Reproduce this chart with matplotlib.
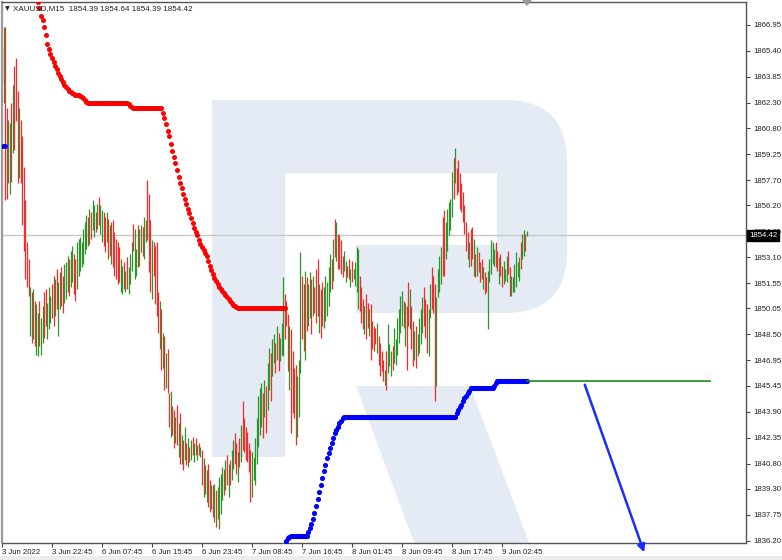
import matplotlib
matplotlib.use('Agg')
import matplotlib.pyplot as plt
import numpy as np
from matplotlib.patches import Rectangle, FancyBboxPatch, Polygon
from matplotlib.transforms import Affine2D

# XAUUSD M15 bars (high / low / direction), one entry per bar
highs = [
    1865.6, 1866.8, 1866.8, 1862.0, 1861.3, 1861.1, 1862.3, 1863.4, 1864.5, 1865.0,
    1863.0, 1862.0, 1861.3, 1860.3, 1858.5, 1856.5, 1854.0, 1853.0, 1851.3, 1851.0,
    1851.2, 1850.5, 1850.3, 1849.8, 1850.5, 1849.5, 1850.2, 1851.0, 1851.2, 1850.4,
    1851.3, 1850.8, 1851.5, 1852.0, 1851.8, 1852.4, 1851.6, 1852.2, 1852.5, 1852.0,
    1852.7, 1852.8, 1853.2, 1853.0, 1853.5, 1853.8, 1853.3, 1853.0, 1854.0, 1854.2,
    1854.3, 1854.0, 1854.8, 1855.2, 1855.6, 1855.5, 1856.0, 1855.8, 1856.5, 1856.2,
    1855.8, 1856.3, 1856.7, 1856.2, 1855.9, 1855.8, 1855.5, 1855.8, 1855.4, 1855.0,
    1855.2, 1855.3, 1854.6, 1854.2, 1854.0, 1853.7, 1853.0, 1852.6, 1852.8, 1852.3,
    1853.1, 1852.5, 1853.3, 1854.0, 1855.1, 1854.8, 1853.6, 1855.0, 1854.8, 1855.0,
    1854.9, 1855.5, 1855.3, 1857.7, 1856.9, 1855.3, 1854.1, 1854.0, 1853.8, 1854.0,
    1851.0, 1850.5, 1850.0, 1848.6, 1848.4, 1847.4, 1847.6, 1845.0, 1845.1, 1844.2,
    1844.0, 1843.6, 1844.3, 1843.2, 1843.8, 1842.5, 1842.2, 1843.0, 1842.0, 1842.3,
    1841.8, 1842.2, 1842.4, 1842.0, 1842.3, 1841.9, 1842.0, 1841.8, 1841.6, 1841.1,
    1840.7, 1840.4, 1840.8, 1839.8, 1839.5, 1839.5, 1839.6, 1839.2, 1839.4, 1840.0,
    1840.2, 1840.6, 1840.5, 1841.0, 1841.3, 1840.8, 1841.0, 1841.6, 1842.2, 1842.6,
    1842.0, 1841.5, 1842.3, 1843.1, 1844.5, 1843.5, 1843.0, 1842.7, 1842.0, 1841.6,
    1841.5, 1841.2, 1842.3, 1843.5, 1844.8, 1845.3, 1845.6, 1845.0, 1845.8, 1845.4,
    1846.8, 1847.7, 1847.4, 1848.2, 1848.5, 1848.0, 1849.0, 1848.6, 1848.3, 1849.2,
    1851.9, 1850.9, 1850.5, 1849.7, 1849.0, 1848.8, 1847.5, 1846.5, 1846.7, 1846.0,
    1847.0, 1853.4, 1852.0, 1851.5, 1852.3, 1851.9, 1851.5, 1852.2, 1851.8, 1852.0,
    1851.3, 1852.4, 1853.0, 1851.5, 1851.2, 1851.6, 1851.3, 1852.0, 1851.6, 1852.5,
    1853.3, 1853.0, 1854.2, 1855.4, 1855.2, 1854.5, 1854.4, 1854.1, 1853.2, 1853.5,
    1852.9, 1852.6, 1853.0, 1852.4, 1852.9, 1852.4, 1852.8, 1853.7, 1853.6, 1852.0,
    1851.3, 1850.6, 1850.2, 1850.9, 1850.4, 1850.0, 1850.3, 1849.3, 1849.0, 1848.9,
    1849.2, 1848.4, 1848.0, 1847.5, 1847.0, 1846.4, 1847.5, 1849.1, 1847.9, 1847.5,
    1847.8, 1848.9, 1848.2, 1849.5, 1850.0, 1850.8, 1851.1, 1850.5, 1850.4, 1850.2,
    1851.6, 1851.2, 1850.2, 1849.3, 1848.7, 1849.0, 1848.5, 1849.5, 1850.0, 1850.7,
    1851.3, 1850.6, 1850.3, 1850.0, 1851.5, 1852.5, 1852.0, 1851.5, 1850.7, 1852.4,
    1853.2, 1853.7, 1855.5, 1855.9, 1855.2, 1856.0, 1856.4, 1856.6, 1858.2, 1859.0,
    1859.6, 1858.4, 1858.9, 1858.1, 1857.5, 1857.0, 1856.2, 1855.2, 1854.6, 1854.0,
    1854.8, 1854.9, 1854.2, 1853.3, 1853.7, 1853.4, 1852.8, 1853.0, 1852.5, 1852.2,
    1851.9, 1852.3, 1853.0, 1854.1, 1854.0, 1853.6, 1854.0, 1853.5, 1853.1, 1853.3,
    1852.6, 1852.9, 1852.4, 1853.2, 1853.5, 1852.5, 1852.0, 1851.9, 1852.7, 1853.4,
    1852.8, 1853.1, 1854.0, 1854.5, 1854.7, 1854.5, 1854.64,
]
lows = [
    1863.5, 1862.3, 1856.5, 1856.6, 1857.5, 1856.9, 1857.6, 1859.3, 1859.5, 1861.2,
    1857.5, 1857.8, 1857.5, 1855.0, 1853.5, 1851.8, 1851.3, 1850.8, 1848.4, 1848.0,
    1848.2, 1847.8, 1847.3, 1847.2, 1847.8, 1847.3, 1848.0, 1848.3, 1849.0, 1848.2,
    1848.8, 1849.2, 1849.5, 1849.0, 1849.6, 1850.0, 1848.4, 1850.0, 1850.2, 1849.8,
    1850.4, 1850.6, 1851.0, 1850.8, 1851.3, 1851.6, 1850.9, 1850.5, 1851.2, 1852.0,
    1852.3, 1852.5, 1852.7, 1853.3, 1853.6, 1853.8, 1853.9, 1854.2, 1854.7, 1854.3,
    1854.6, 1854.8, 1855.0, 1854.5, 1854.0, 1853.8, 1853.4, 1854.0, 1853.0, 1853.2,
    1852.7, 1852.5, 1852.0, 1851.8, 1851.5, 1851.6, 1851.0, 1850.9, 1851.2, 1851.0,
    1851.2, 1850.9, 1851.5, 1852.3, 1853.5, 1851.8, 1852.0, 1852.5, 1852.6, 1853.4,
    1853.2, 1853.0, 1854.0, 1854.1, 1852.2, 1851.0, 1850.6, 1852.0, 1850.3, 1849.6,
    1848.6, 1847.6, 1846.4, 1846.5, 1845.2, 1845.3, 1845.0, 1843.0, 1842.4, 1842.5,
    1841.7, 1842.0, 1841.9, 1841.2, 1840.8, 1840.8, 1840.4, 1841.0, 1840.7, 1840.6,
    1840.9, 1841.0, 1841.3, 1840.9, 1841.3, 1841.0, 1841.3, 1841.2, 1839.5, 1838.8,
    1839.0, 1838.5, 1838.2, 1837.9, 1838.1, 1837.6, 1837.3, 1837.0, 1837.5, 1836.9,
    1837.8, 1838.6, 1838.9, 1839.2, 1839.5, 1838.8, 1839.5, 1839.8, 1840.5, 1840.8,
    1840.2, 1839.7, 1840.6, 1840.9, 1841.6, 1841.5, 1841.0, 1840.9, 1840.3, 1838.5,
    1838.8, 1839.8, 1839.5, 1840.8, 1841.8, 1842.5, 1843.0, 1842.3, 1843.6, 1842.6,
    1844.0, 1845.2, 1844.5, 1846.0, 1846.8, 1846.2, 1847.0, 1846.3, 1846.9, 1847.3,
    1847.2, 1848.2, 1849.0, 1846.3, 1845.2, 1842.6, 1843.8, 1843.5, 1841.9, 1842.4,
    1843.6, 1846.2, 1848.2, 1847.5, 1847.0, 1848.7, 1849.0, 1849.5, 1848.5, 1849.6,
    1849.8, 1849.2, 1849.6, 1848.6, 1848.3, 1849.0, 1848.9, 1849.3, 1849.6, 1850.2,
    1851.0, 1851.2, 1851.7, 1853.1, 1852.9, 1852.4, 1852.4, 1852.1, 1851.9, 1852.3,
    1851.6, 1851.9, 1851.8, 1851.3, 1851.6, 1851.8, 1851.4, 1851.0, 1850.0, 1849.9,
    1849.2, 1848.8, 1848.5, 1848.2, 1848.9, 1848.4, 1847.0, 1847.6, 1847.5, 1847.9,
    1847.4, 1846.7, 1846.0, 1846.3, 1845.7, 1845.5, 1845.2, 1846.2, 1846.6, 1846.0,
    1846.4, 1846.8, 1846.7, 1847.3, 1848.0, 1848.6, 1849.0, 1848.9, 1847.8, 1846.4,
    1849.0, 1848.8, 1847.6, 1846.6, 1847.0, 1846.5, 1847.2, 1847.4, 1847.9, 1848.6,
    1849.0, 1848.3, 1847.4, 1847.2, 1849.5, 1850.0, 1849.8, 1844.5, 1845.4, 1850.7,
    1851.0, 1851.5, 1852.0, 1852.0, 1853.0, 1853.5, 1854.4, 1854.7, 1855.5, 1856.6,
    1857.5, 1856.8, 1857.0, 1856.0, 1855.8, 1855.2, 1854.5, 1853.5, 1853.0, 1852.5,
    1852.6, 1853.0, 1852.0, 1851.9, 1852.0, 1852.2, 1851.6, 1851.8, 1851.2, 1850.9,
    1851.0, 1848.8, 1851.6, 1852.1, 1852.7, 1852.6, 1852.5, 1852.3, 1851.5, 1852.0,
    1851.3, 1851.5, 1851.7, 1851.6, 1852.1, 1850.8, 1850.8, 1851.0, 1851.0, 1851.3,
    1851.9, 1851.7, 1852.4, 1853.0, 1853.2, 1853.5, 1854.39,
]
direction = (
    "rgrrggrgrr" "rgrrrrrrgr" "grggrggrrg" "ggrrgrggrr" "gggrggrrgg"
    "gggggrgrgg" "rgrggrrgrr" "grrrrrggrg" "rgggrggrgg" "rggrrrgrrr"
    "rgrgrgrrgr" "rgrgrgrgrg" "rgrgrgrgrg" "rgrrgrgrgg" "ggrgrgrggr"
    "rgrgrrrrrr" "gggggggrgr" "ggrggrgrgg" "grrrgrrrrg" "ggrrgrggrg"
    "rrrgrrgggg" "grgrgrrrrg" "grrgrggggr" "rrgrrgrrrr" "grrrrgrggg"
    "rggggggrgr" "rgrrgrgggg" "rrrggrrrgg" "ggrrggggg" "rgrrrrrrrr"
    "grrgrgrrrg" "rrgggggrrg" "rrgggrrggg" "gggrgg"
)

# upper trailing stop (red dots), starting at bar 23
stop_up_first = 23
stop_up = [
    1868.3, 1867.96, 1867.5, 1867.25, 1866.8, 1866.35, 1865.8, 1865.5, 1865.2, 1865.0,
    1864.75, 1864.5, 1864.3, 1864.1, 1863.9, 1863.7, 1863.55, 1863.4, 1863.25, 1863.15,
    1863.0, 1862.95, 1862.9, 1862.85, 1862.8, 1862.8, 1862.8, 1862.7, 1862.65, 1862.6,
    1862.5, 1862.35,
    1862.3, 1862.3, 1862.3, 1862.3, 1862.3, 1862.3, 1862.3, 1862.3, 1862.3, 1862.3,
    1862.3, 1862.3, 1862.3, 1862.3, 1862.3, 1862.3, 1862.3, 1862.3, 1862.3, 1862.3,
    1862.3, 1862.3, 1862.3, 1862.3, 1862.3, 1862.3,
    1862.25, 1862.12, 1862.05,
    1862.0, 1862.0, 1862.0, 1862.0, 1862.0, 1862.0, 1862.0, 1862.0, 1862.0, 1862.0,
    1862.0, 1862.0, 1862.0, 1862.0, 1862.0, 1862.0, 1862.0, 1862.0,
    1862.0, 1861.7, 1861.4, 1861.05, 1860.6, 1860.3, 1859.85, 1859.45, 1859.1, 1858.7,
    1858.3, 1857.9, 1857.5, 1857.2, 1856.9, 1856.6, 1856.3, 1856.0, 1855.75, 1855.45,
    1855.15, 1854.85, 1854.6, 1854.4, 1854.15, 1853.9, 1853.7, 1853.55, 1853.35, 1853.2,
    1852.9, 1852.6, 1852.35, 1852.1, 1851.85, 1851.7, 1851.5, 1851.35, 1851.2, 1851.1,
    1850.95, 1850.85, 1850.75, 1850.6, 1850.5, 1850.4, 1850.25, 1850.2, 1850.15, 1850.1,
    1850.1, 1850.1, 1850.1, 1850.1, 1850.1, 1850.1, 1850.1, 1850.1, 1850.1, 1850.1,
    1850.1, 1850.1, 1850.1, 1850.1,
    1850.05, 1850.05, 1850.05, 1850.05, 1850.05, 1850.05, 1850.05, 1850.05,
    1850.05, 1850.05, 1850.05, 1850.05, 1850.05, 1850.05, 1850.05, 1850.05,
]

# lower trailing stop (blue dots): a few at the very start, then from bar 182
stop_dn_early = [1859.73, 1859.73, 1859.73]
stop_dn_first = 182
stop_dn = [
    1836.18, 1836.36, 1836.42,
    1836.48, 1836.48, 1836.48, 1836.48, 1836.48, 1836.48, 1836.48, 1836.48, 1836.48,
    1836.48, 1836.48,
    1836.72, 1836.96, 1837.2, 1837.5, 1837.85, 1838.27, 1838.7, 1839.1, 1839.5, 1839.95,
    1840.35, 1840.7, 1841.1, 1841.4, 1841.7, 1842.0, 1842.3, 1842.6, 1842.8, 1843.0,
    1843.2, 1843.35, 1843.5,
    1843.6, 1843.6, 1843.6, 1843.6, 1843.6, 1843.6, 1843.6, 1843.6, 1843.6, 1843.6, 1843.6, 1843.6,
    1843.6, 1843.6, 1843.6, 1843.6, 1843.6, 1843.6, 1843.6, 1843.6, 1843.6, 1843.6, 1843.6, 1843.6,
    1843.6, 1843.6, 1843.6, 1843.6, 1843.6, 1843.6, 1843.6, 1843.6, 1843.6, 1843.6, 1843.6, 1843.6,
    1843.6, 1843.6, 1843.6, 1843.6, 1843.6, 1843.6, 1843.6, 1843.6, 1843.6, 1843.6, 1843.6, 1843.6,
    1843.6, 1843.6, 1843.6, 1843.6, 1843.6, 1843.6, 1843.6, 1843.6, 1843.6, 1843.6, 1843.6, 1843.6,
    1843.6, 1843.6, 1843.6, 1843.6, 1843.6, 1843.6, 1843.6, 1843.6, 1843.6, 1843.6, 1843.6, 1843.6,
    1843.8, 1844.0, 1844.15, 1844.3, 1844.5, 1844.7, 1844.85, 1845.0, 1845.1,
    1845.3, 1845.3, 1845.3, 1845.3, 1845.3, 1845.3, 1845.3, 1845.3, 1845.3, 1845.3,
    1845.3, 1845.3, 1845.3, 1845.3, 1845.3,
    1845.45, 1845.6,
    1845.7, 1845.7, 1845.7, 1845.7, 1845.7, 1845.7, 1845.7, 1845.7, 1845.7, 1845.7,
    1845.7, 1845.7, 1845.7, 1845.7, 1845.7, 1845.7, 1845.7, 1845.7, 1845.7, 1845.7,
]

# forecast drawing: level line and arrow (bar index, price)
level_price = 1845.7
level_bars = [336, 453]
arrow_start = [373, 1845.5]
arrow_end = [411, 1835.5]

last_price = 1854.42
title = "XAUUSD,M15  1854.39 1854.64 1854.39 1854.42"

yticks = [1836.20, 1837.75, 1839.30, 1840.80, 1842.35, 1843.90, 1845.45, 1846.95,
          1848.50, 1850.05, 1851.55, 1853.10, 1854.65, 1856.20, 1857.70, 1859.25,
          1860.80, 1862.30, 1863.85, 1865.40, 1866.95]
xtick_bars = [0, 32, 64, 96, 128, 160, 192, 224, 256, 288, 320]
xtick_labels = ['3 Jun 2022', '3 Jun 22:45', '6 Jun 07:45', '6 Jun 15:45', '6 Jun 23:45',
                '7 Jun 08:45', '7 Jun 16:45', '8 Jun 01:45', '8 Jun 09:45', '8 Jun 17:45',
                '9 Jun 02:45']

plt.rcParams['font.family'] = ['Liberation Sans', 'DejaVu Sans']

W, H = 782, 560
fig = plt.figure(figsize=(W / 100, H / 100), dpi=100)
ax = fig.add_axes([1.5 / W, (H - 542.5) / H, 744.5 / W, 540.5 / H])
# pixel transform (origin top-left) for the watermark and decorations
px = Affine2D().scale(0.01, -0.01).translate(0, H / 100) + fig.dpi_scale_trans

bar_w = 1.5625
ax.set_xlim(-0.3, 744.5 / bar_w - 0.3)
ax.set_ylim(1836.09, 1868.32)

# watermark logo
wm = '#e5ebf4'
shapes = [
    FancyBboxPatch((212, 100), 355, 213, boxstyle='round,pad=0,rounding_size=62'),
    Rectangle((212, 100), 200, 213),
    Rectangle((212, 100), 73, 357),
    Polygon([(356, 386), (470, 386), (530, 545), (415, 545)]),
]
for s in shapes:
    s.set_transform(px)
    s.set_facecolor(wm)
    s.set_edgecolor('none')
    s.set_zorder(0)
    ax.add_patch(s)
for r in [Rectangle((285, 173), 212, 72), Rectangle((285, 245), 71, 68)]:
    r.set_transform(px)
    r.set_facecolor('white')
    r.set_edgecolor('none')
    r.set_zorder(0.1)
    ax.add_patch(r)

ax.axhline(last_price, color='#c8c8c8', lw=1, zorder=1)

idx = np.arange(len(highs))
cols = ['#2a962a' if d == 'g' else '#f52a2a' for d in direction]
ax.vlines(idx, lows, highs, colors=cols, linewidth=0.9, zorder=2)

ax.plot(np.arange(stop_up_first, stop_up_first + len(stop_up)), stop_up, 'o',
        color='#ff0000', ms=3.6, mec='none', zorder=3)
ax.plot(np.arange(len(stop_dn_early)), stop_dn_early, 'o',
        color='#0000ff', ms=3.4, mec='none', zorder=3)
ax.plot(np.arange(stop_dn_first, stop_dn_first + len(stop_dn)), stop_dn, 'o',
        color='#0000ff', ms=3.7, mec='none', zorder=3)

ax.plot(level_bars, [level_price, level_price], color='#1a8a1a', lw=1.2, zorder=3)
ax.annotate('', xy=arrow_end, xytext=arrow_start, annotation_clip=False,
            arrowprops=dict(arrowstyle='-|>', color='#1a2cff', lw=1.8,
                            mutation_scale=11, shrinkA=0, shrinkB=0))

for side in ['top', 'right', 'bottom']:
    ax.spines[side].set_color('#555555')
    ax.spines[side].set_linewidth(1)
ax.spines['left'].set_color('#9a9a9a')
ax.spines['left'].set_linewidth(1.6)

ax.yaxis.tick_right()
ax.set_yticks(yticks)
ax.set_yticklabels(['%.2f' % v for v in yticks])
ax.set_xticks(xtick_bars)
ax.set_xticklabels(xtick_labels, ha='left')
ax.tick_params(axis='both', direction='out', length=3, width=0.8, color='#444444',
               labelsize=5.6, labelcolor='#222222', pad=2)

# header and price tag
fig.text(5 / W, 1 - 8.5 / H, u'\u25bc', fontsize=4.5, color='#222222', va='center',
         family='DejaVu Sans')
fig.text(13 / W, 1 - 8.5 / H, title, fontsize=5.8, color='#222222', va='center')
fig.text(749 / W, 1 - 235.5 / H, '%.2f' % last_price, fontsize=5.6, color='white',
         va='center', ha='left',
         bbox=dict(boxstyle='square,pad=0.2', fc='black', ec='black'))
marker = Polygon([(522, 0), (532, 0), (527, 6)], transform=px, fc='#9a9a9a', ec='none')
fig.add_artist(marker)
fig.add_artist(Rectangle((0, 556), W, 4, transform=px, fc='#ececec', ec='none'))

fig.savefig('out.png', dpi=100, facecolor='white')
